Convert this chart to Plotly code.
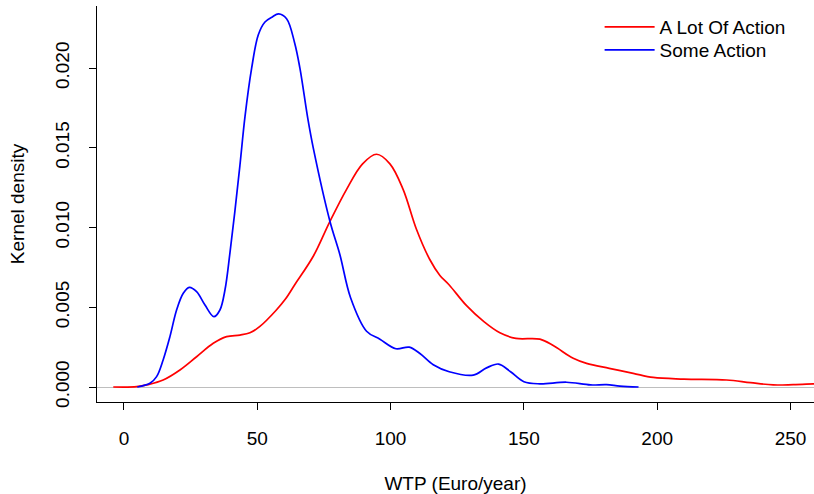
import plotly.graph_objects as go

# WTP values (Euro/year) and kernel density estimates
lot_x = [-4, 4.75, 9, 14.7, 21, 27.25, 33.5, 38.5, 43.5, 47.25, 51, 57, 60.5, 64, 71, 77,
         83.5, 89.5, 94.75, 99.75, 104.7, 109.7, 114.7, 118.5, 122, 128.5, 135, 141, 147,
         156, 161, 168.5, 173.5, 182, 191, 198.5, 210, 226, 235, 243.5, 251, 258.5, 262]
lot_y = [0, 0.00002, 0.00015, 0.00044, 0.00107, 0.0019, 0.00274, 0.00316, 0.00326, 0.0034,
         0.0038, 0.0048, 0.0055, 0.0064, 0.0082, 0.0103, 0.0124, 0.0140, 0.0146, 0.0140,
         0.0124, 0.0099, 0.0080, 0.0070, 0.0064, 0.0051, 0.0041, 0.0034, 0.00305, 0.0030,
         0.0026, 0.0018, 0.00148, 0.00117, 0.00086, 0.0006, 0.0005, 0.00044, 0.00027,
         0.00013, 0.00015, 0.0002, 0.00022]

some_x = [5, 9.75, 12.25, 14.7, 17.25, 19.75, 22.25, 24.5, 27.25, 30.4, 33.75, 36, 37.9,
          39.75, 41.6, 43.5, 45.4, 47.9, 50.4, 52.9, 55.5, 58, 61, 64, 66, 69, 71, 77.25,
          81, 85, 91, 96, 102, 107, 111, 116, 122, 131, 136, 140.5, 145, 150, 156, 166,
          175, 181, 186, 193]
some_y = [0, 0.00023, 0.00065, 0.0017, 0.00316, 0.00483, 0.00588, 0.00625, 0.00598,
          0.00514, 0.00441, 0.00483, 0.0061, 0.0084, 0.0110, 0.0139, 0.01696, 0.0200,
          0.0221, 0.0229, 0.0232, 0.0234, 0.0231, 0.0216, 0.0200, 0.0168, 0.0150, 0.0104,
          0.0083, 0.0056, 0.0035, 0.0030, 0.0024, 0.0025, 0.0021, 0.0014, 0.00096, 0.00075,
          0.0012, 0.00144, 0.00096, 0.00033, 0.0002, 0.0003, 0.00013, 0.00015, 0.00006, 0]

series_names = ["A Lot Of Action", "Some Action"]
x_ticks = [0, 50, 100, 150, 200, 250]
y_ticks = [0.000, 0.005, 0.010, 0.015, 0.020]

FONT = "Liberation Sans, Arial, Helvetica, sans-serif"
FS = 19

fig = go.Figure()
fig.add_trace(go.Scatter(x=lot_x, y=lot_y, mode="lines", name=series_names[0],
                         legend="legend",
                         line=dict(color="#FF0000", width=1.7, shape="spline", smoothing=1.0)))
fig.add_trace(go.Scatter(x=some_x, y=some_y, mode="lines", name=series_names[1],
                         legend="legend2",
                         line=dict(color="#0000FF", width=1.7, shape="spline", smoothing=1.0)))

legend_style = dict(xanchor="left", yanchor="top", bgcolor="rgba(0,0,0,0)", itemwidth=50,
                    font=dict(family=FONT, size=FS, color="black"))

fig.update_layout(
    width=814, height=494,
    margin=dict(l=97, r=0, t=6, b=92, autoexpand=False),
    paper_bgcolor="white", plot_bgcolor="white",
    font=dict(family=FONT, size=FS, color="black"),
    showlegend=True,
    legend=dict(x=0.701, y=0.995, **legend_style),
    legend2=dict(x=0.701, y=0.937, **legend_style),
    xaxis=dict(range=[-10.1, 258.8], tickvals=x_ticks, ticktext=[str(v) for v in x_ticks],
               automargin=False,
               showgrid=False, zeroline=False, showline=True, linecolor="black", linewidth=1,
               ticks="outside", ticklen=7, tickcolor="black", tickwidth=1,
               ticklabelstandoff=12,
               title=dict(text="WTP (Euro/year)", standoff=28,
                          font=dict(family=FONT, size=FS))),
    yaxis=dict(range=[-0.00094, 0.0239], tickvals=y_ticks,
               ticktext=["%.3f" % v for v in y_ticks], tickangle=-90,
               automargin=False,
               showgrid=False, zeroline=True, zerolinecolor="#BEBEBE", zerolinewidth=1,
               showline=True, linecolor="black", linewidth=1,
               ticks="outside", ticklen=7, tickcolor="black", tickwidth=1,
               ticklabelstandoff=12,
               title=dict(text="Kernel density", standoff=22,
                          font=dict(family=FONT, size=FS))),
)

fig.write_html("out.html",
               config={"displayModeBar": False, "staticPlot": True},
               post_script="document.body.style.margin='0';document.body.style.overflow='hidden';")
